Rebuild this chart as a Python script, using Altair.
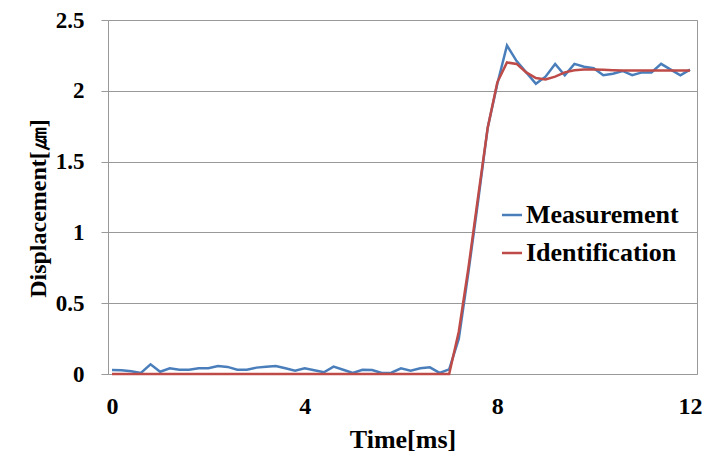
import altair as alt
import pandas as pd

time_ms = [round(i * 0.2, 1) for i in range(61)]

measurement = [
    0.028, 0.026, 0.02, 0.008, 0.068, 0.016, 0.04, 0.03, 0.03, 0.04,
    0.04, 0.057, 0.05, 0.03, 0.03, 0.045, 0.052, 0.057, 0.04, 0.024,
    0.04, 0.026, 0.012, 0.052, 0.03, 0.007, 0.03, 0.028, 0.007, 0.009,
    0.04, 0.024, 0.04, 0.047, 0.008, 0.033, 0.25, 0.72, 1.22, 1.74,
    2.05, 2.32, 2.21, 2.13, 2.05, 2.10, 2.19, 2.11, 2.19, 2.17,
    2.16, 2.11, 2.12, 2.14, 2.11, 2.13, 2.13, 2.19, 2.15, 2.11,
    2.15,
]

identification = [
    0.0, 0.0, 0.0, 0.0, 0.0, 0.0, 0.0, 0.0, 0.0, 0.0,
    0.0, 0.0, 0.0, 0.0, 0.0, 0.0, 0.0, 0.0, 0.0, 0.0,
    0.0, 0.0, 0.0, 0.0, 0.0, 0.0, 0.0, 0.0, 0.0, 0.0,
    0.0, 0.0, 0.0, 0.0, 0.0, 0.0, 0.30, 0.75, 1.25, 1.74,
    2.06, 2.20, 2.19, 2.13, 2.09, 2.08, 2.10, 2.13, 2.145, 2.15,
    2.15, 2.148, 2.145, 2.143, 2.143, 2.143, 2.143, 2.143, 2.143, 2.143,
    2.143,
]

series_names = ["Measurement", "Identification"]
series_colors = ["#4A7EBB", "#BE4B48"]
x_ticks = [0, 4, 8, 12]
y_ticks = [0, 0.5, 1, 1.5, 2, 2.5]

df = pd.DataFrame(
    {
        "t": time_ms * 2,
        "v": measurement + identification,
        "series": [series_names[0]] * len(time_ms) + [series_names[1]] * len(time_ms),
    }
)

FONT = "Liberation Serif, Times New Roman, serif"

x_enc = alt.X(
    "t:Q",
    scale=alt.Scale(domain=[-0.083, 12.145], nice=False, zero=False),
    axis=alt.Axis(
        values=x_ticks,
        title="Time[ms]",
        grid=False,
        ticks=False,
        tickSize=0,
        domain=False,
        labelPadding=20,
        labelFontSize=24,
        labelFont=FONT,
        labelFontWeight="bold",
        labelColor="#000000",
        titleFont=FONT,
        titleFontSize=26,
        titleFontWeight="bold",
        titleColor="#000000",
        titlePadding=8,
    ),
)

y_enc = alt.Y(
    "v:Q",
    scale=alt.Scale(domain=[0, 2.5], nice=False),
    axis=alt.Axis(
        values=y_ticks,
        title="Displacement[㎛]",
        grid=True,
        gridColor="#999999",
        gridWidth=1,
        domain=False,
        ticks=True,
        tickSize=7,
        tickColor="#999999",
        labelPadding=17,
        labelFontSize=23,
        labelFont=FONT,
        labelFontWeight="bold",
        labelColor="#000000",
        labelExpr="datum.value == 0 ? '0' : format(datum.value, '~g')",
        titleFont=FONT,
        titleFontSize=24,
        titleFontWeight="bold",
        titleColor="#000000",
        titlePadding=5,
        titleY=188,
    ),
)

color_enc = alt.Color(
    "series:N",
    scale=alt.Scale(domain=series_names, range=series_colors),
    legend=alt.Legend(
        title=None,
        orient="none",
        legendX=391,
        legendY=182,
        symbolType="stroke",
        symbolSize=400,
        symbolStrokeWidth=2.5,
        labelFont=FONT,
        labelFontSize=26,
        labelFontWeight="bold",
        labelColor="#000000",
        labelOffset=1,
        rowPadding=12,
    ),
)

base = alt.Chart(df).encode(x=x_enc, y=y_enc, color=color_enc)

meas = base.transform_filter(alt.datum.series == series_names[0]).mark_line(strokeWidth=2.5)
ident = base.transform_filter(alt.datum.series == series_names[1]).mark_line(strokeWidth=2.5)

chart = (
    alt.layer(meas, ident)
    .properties(
        width=589,
        height=354,
        autosize=alt.AutoSizeParams(type="none"),
        padding={"left": 108, "top": 20, "right": 19, "bottom": 81},
        background="#ffffff",
    )
    .configure_view(stroke="#999999", strokeWidth=1)
)

chart.save("out.html", embed_options={"renderer": "svg", "actions": False})
